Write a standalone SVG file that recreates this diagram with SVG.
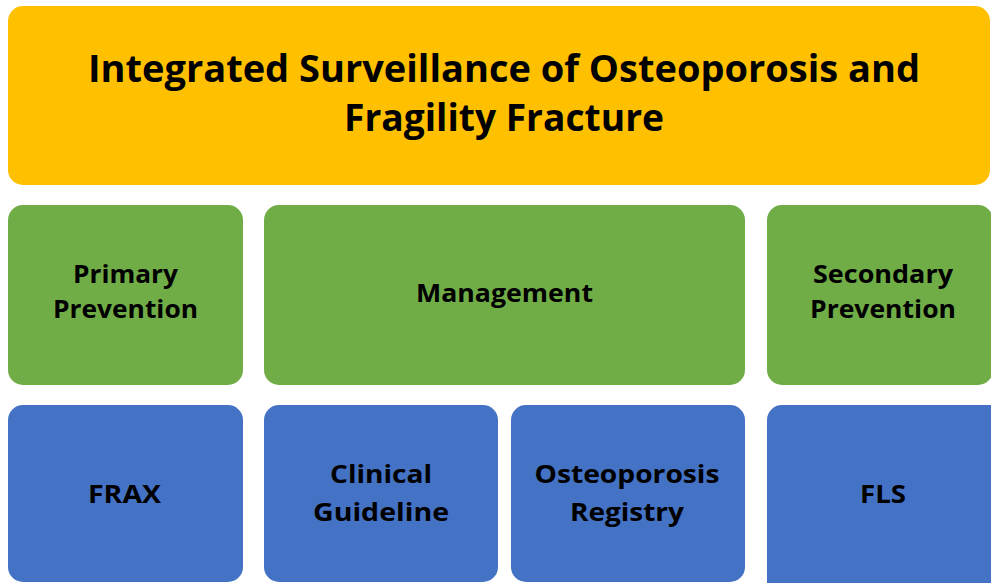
<svg xmlns="http://www.w3.org/2000/svg" width="991" height="583" viewBox="0 0 991 583">
<style>
.t{font-family:"Open Sans","Liberation Sans",sans-serif;font-weight:bold;fill:#000;text-anchor:middle}
.h{font-size:38px}
.n{font-size:25px}
.y{fill:#FFC000}
.g{fill:#70AD47}
.b{fill:#4472C4}
</style>
<rect width="991" height="583" fill="#fff"/>
<g id="title">
<rect class="y" x="8" y="6" width="982" height="179" rx="15"/>
<text class="t h" x="504" y="82" textLength="832" lengthAdjust="spacingAndGlyphs">Integrated Surveillance of Osteoporosis and</text>
<text class="t h" x="504" y="131" textLength="320" lengthAdjust="spacingAndGlyphs">Fragility Fracture</text>
</g>
<g id="primary">
<rect class="g" x="8" y="205" width="235" height="180" rx="15"/>
<text class="t n" x="125.5" y="283" textLength="105" lengthAdjust="spacingAndGlyphs">Primary</text>
<text class="t n" x="125.5" y="318" textLength="145" lengthAdjust="spacingAndGlyphs">Prevention</text>
</g>
<g id="management">
<rect class="g" x="264" y="205" width="481" height="180" rx="15"/>
<text class="t n" x="504.5" y="302" textLength="177" lengthAdjust="spacingAndGlyphs">Management</text>
</g>
<g id="secondary">
<rect class="g" x="767" y="205" width="226" height="180" rx="15"/>
<text class="t n" x="883" y="283" textLength="140" lengthAdjust="spacingAndGlyphs">Secondary</text>
<text class="t n" x="883" y="318" textLength="146" lengthAdjust="spacingAndGlyphs">Prevention</text>
</g>
<g id="frax">
<rect class="b" x="8" y="405" width="235" height="177" rx="15"/>
<text class="t n" x="124.5" y="503" textLength="73" lengthAdjust="spacingAndGlyphs">FRAX</text>
</g>
<g id="guideline">
<rect class="b" x="264" y="405" width="234" height="177" rx="15"/>
<text class="t n" x="381" y="483" textLength="102" lengthAdjust="spacingAndGlyphs">Clinical</text>
<text class="t n" x="381" y="521" textLength="136" lengthAdjust="spacingAndGlyphs">Guideline</text>
</g>
<g id="registry">
<rect class="b" x="511" y="405" width="234" height="177" rx="15"/>
<text class="t n" x="627" y="483" textLength="185" lengthAdjust="spacingAndGlyphs">Osteoporosis</text>
<text class="t n" x="627" y="521" textLength="114" lengthAdjust="spacingAndGlyphs">Registry</text>
</g>
<g id="fls">
<rect class="b" x="767" y="405" width="240" height="200" rx="15"/>
<text class="t n" x="883" y="503" textLength="46" lengthAdjust="spacingAndGlyphs">FLS</text>
</g>
<g id="connectors"/>
</svg>
